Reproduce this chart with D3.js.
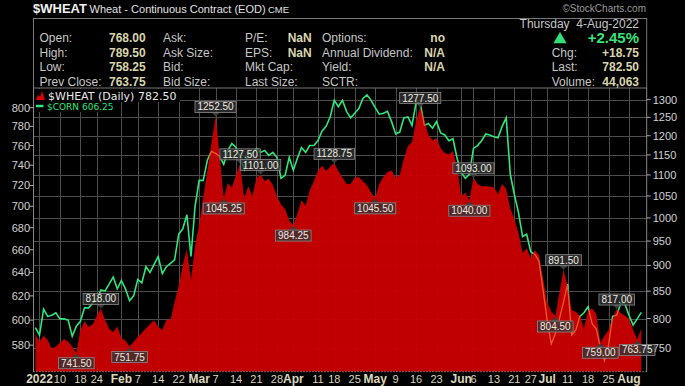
<!DOCTYPE html>
<html>
<head>
<meta charset="utf-8">
<script src="https://cdn.jsdelivr.net/npm/d3@7"></script>
<style>
  html, body { margin: 0; padding: 0; background: #000; }
  svg { display: block; font-family: "Liberation Sans", Arial, sans-serif; }
</style>
</head>
<body>
<div id="container"></div>
<script>
// trading calendar: weekdays from Dec 31 2021 to Aug 4 2022, minus exchange holidays
const holidays = ["2022-01-17", "2022-02-21", "2022-04-15", "2022-05-30", "2022-06-20", "2022-07-04"];

// $WHEAT daily close (right axis), one per trading day
const wheat = [
  772, 760, 770, 763, 748, 752, 758, 764.5, 760, 752,
  741.5, 780, 795, 785, 790, 805, 818, 798, 782, 776,
  786, 766, 762, 751.75, 760, 768, 775, 783, 790, 797,
  785, 780, 798, 798, 830, 860, 900, 934, 871, 940,
  985, 1045, 1110, 1180, 1252.5, 1150, 1045.25, 1080, 1070, 1100,
  1127.5, 1045, 1073, 1050, 1092, 1101, 1085, 1091, 1076, 1050,
  1030, 1020, 994, 984.25, 1010, 1040, 1027, 1063, 1084, 1110,
  1123, 1110, 1120, 1128.75, 1110, 1094, 1078, 1078, 1094, 1095,
  1085, 1075, 1058, 1045.5, 1078, 1095, 1107, 1111, 1094, 1100,
  1140, 1173, 1183, 1240, 1277.5, 1242, 1201, 1188, 1193, 1167,
  1155, 1151, 1160, 1120, 1050, 1058, 1040, 1093, 1078, 1073,
  1073, 1072, 1070, 1054, 1078, 1066, 1021, 997, 967, 925,
  935, 915, 931, 921, 875, 830, 812, 804.5, 846, 891.5,
  860, 815, 812, 805, 783, 815, 818, 808, 759, 770,
  780, 800, 817, 810, 805, 800, 780, 763.75, 782.5
];

// $CORN daily close (left axis)
const corn = [
  594, 588, 609, 603, 604, 606, 601, 601, 600, 587,
  595, 599, 610, 610, 614, 617, 625, 624, 630, 636,
  626, 633, 626, 616, 620, 634, 631, 645, 640, 647,
  654, 639, 645, 648, 651, 674, 679, 692, 654, 700,
  725, 725, 745, 754, 752, 749, 741, 755, 762, 758,
  748, 736, 753, 752, 757, 753, 755, 750, 753, 748,
  727, 730, 748, 735, 747, 758, 753, 760, 760, 765,
  775, 780, 790, 808, 801, 808, 796, 789, 794, 799,
  810, 814, 808, 800, 793, 794, 796, 785, 772, 774,
  789, 790, 781, 806, 805, 781, 783, 778, 785, 773,
  771, 765, 767, 747, 733, 727, 731, 757, 760, 765,
  772, 771, 769, 768, 780, 789, 731, 711, 694, 672,
  674, 658, 656, 650, 625, 600, 581, 589, 601, 615,
  630, 588, 592, 603, 606, 611, 597, 593, 578, 568,
  580, 603, 604, 614, 613, 604, 596, 601, 606.25
];

const leftTicks = [580, 600, 620, 640, 660, 680, 700, 720, 740, 760, 780, 800];
const rightTicks = [750, 800, 850, 900, 950, 1000, 1050, 1100, 1150, 1200, 1250, 1300];

const tickDates = [
  "2022-01-03", "2022-01-10", "2022-01-18", "2022-01-24", "2022-02-01", "2022-02-07",
  "2022-02-14", "2022-02-22", "2022-03-01", "2022-03-07", "2022-03-14", "2022-03-21",
  "2022-03-28", "2022-04-01", "2022-04-11", "2022-04-18", "2022-04-25", "2022-05-02",
  "2022-05-09", "2022-05-16", "2022-05-23", "2022-06-01", "2022-06-06", "2022-06-13",
  "2022-06-21", "2022-06-27", "2022-07-01", "2022-07-11", "2022-07-18", "2022-07-25",
  "2022-08-01"
];
const tickLabels = [
  "2022", "10", "18", "24", "Feb", "7", "14", "22", "Mar", "7", "14", "21",
  "28", "Apr", "11", "18", "25", "May", "9", "16", "23", "Jun", "6", "13",
  "21", "27", "Jul", "11", "18", "25", "Aug"
];

// price annotations on the wheat area
const annDates = [
  "2022-01-14", "2022-01-25", "2022-02-03", "2022-03-07", "2022-03-09", "2022-03-15",
  "2022-03-22", "2022-04-01", "2022-04-18", "2022-05-02", "2022-05-17", "2022-06-03",
  "2022-06-06", "2022-07-06", "2022-07-08", "2022-07-21", "2022-07-27", "2022-08-03"
];
const annValues = [
  741.5, 818, 751.75, 1252.5, 1045.25, 1127.5, 1101, 984.25, 1128.75, 1045.5,
  1277.5, 1040, 1093, 804.5, 891.5, 759, 817, 763.75
];
const annSide = [
  "low", "high", "low", "high", "low", "high", "high", "low", "high", "low",
  "high", "low", "high", "low", "high", "low", "high", "low"
];

const fmtDay = d3.utcFormat("%Y-%m-%d");
const dates = d3.utcDay.range(new Date(Date.UTC(2021, 11, 31)), new Date(Date.UTC(2022, 7, 5)))
  .filter(d => d.getUTCDay() !== 0 && d.getUTCDay() !== 6)
  .map(fmtDay)
  .filter(s => !holidays.includes(s));

const data = dates.map((d, i) => ({date: d, w: wheat[i], c: corn[i]}));

const W = 685, H = 386;
const plot = {left: 33.5, right: 646.7, top: 88, bottom: 371.7};

const svg = d3.select("#container").append("svg")
  .attr("width", W)
  .attr("height", H);

svg.append("rect").attr("width", W).attr("height", H).attr("fill", "#000");

const x = d3.scalePoint().domain(dates).range([35.4, 641.3]);
const yL = d3.scaleLog().domain([559.5, 821.6]).range([plot.bottom, plot.top]);
const yR = d3.scaleLog().domain([711, 1334]).range([plot.bottom, plot.top]);

const defs = svg.append("defs");
defs.append("clipPath").attr("id", "plotClip")
  .append("rect")
  .attr("x", plot.left).attr("y", plot.top)
  .attr("width", plot.right - plot.left).attr("height", plot.bottom - plot.top);

const area = d3.area()
  .x(d => x(d.date))
  .y0(plot.bottom)
  .y1(d => yR(d.w));

defs.append("clipPath").attr("id", "areaClip")
  .append("path").attr("d", area(data));

// grid
const grid = svg.append("g").attr("stroke", "#4d4d4d").attr("stroke-width", 1);
grid.selectAll(".hg").data(rightTicks).enter().append("line")
  .attr("x1", plot.left).attr("x2", plot.right)
  .attr("y1", d => Math.round(yR(d)) + 0.5).attr("y2", d => Math.round(yR(d)) + 0.5);
grid.selectAll(".vg").data(tickDates).enter().append("line")
  .attr("x1", d => Math.round(x(d)) + 0.5).attr("x2", d => Math.round(x(d)) + 0.5)
  .attr("y1", plot.top).attr("y2", plot.bottom);

const g = svg.append("g").attr("clip-path", "url(#plotClip)");

const cornLine = d3.line()
  .x(d => x(d.date))
  .y(d => yL(d.c));

g.append("path")
  .attr("d", cornLine(data))
  .attr("fill", "none")
  .attr("stroke", "#2fe57c")
  .attr("stroke-width", 1.6);

g.append("path")
  .attr("d", area(data))
  .attr("fill", "#c80000")
  .attr("fill-opacity", 0.96);

// corn line seen through the wheat area
g.append("g").attr("clip-path", "url(#areaClip)")
  .append("path")
  .attr("d", cornLine(data))
  .attr("fill", "none")
  .attr("stroke", "#ff7a3a")
  .attr("stroke-opacity", 0.7)
  .attr("stroke-width", 1.3);

// axes frame
svg.append("line")
  .attr("x1", plot.left).attr("x2", plot.left)
  .attr("y1", plot.top).attr("y2", plot.bottom)
  .attr("stroke", "#888");
svg.append("line")
  .attr("x1", plot.right).attr("x2", plot.right)
  .attr("y1", plot.top).attr("y2", plot.bottom)
  .attr("stroke", "#888");
svg.append("line")
  .attr("x1", plot.left).attr("x2", plot.right)
  .attr("y1", plot.bottom).attr("y2", plot.bottom)
  .attr("stroke", "#bbb")
  .attr("stroke-dasharray", "1,2");

// left axis (corn)
const la = svg.append("g");
la.selectAll("line").data(leftTicks).enter().append("line")
  .attr("x1", plot.left - 4).attr("x2", plot.left)
  .attr("y1", d => yL(d)).attr("y2", d => yL(d))
  .attr("stroke", "#aaa");
la.selectAll("text").data(leftTicks).enter().append("text")
  .attr("x", plot.left - 3.5)
  .attr("y", d => yL(d) + 4)
  .attr("text-anchor", "end")
  .attr("font-size", "11px")
  .attr("fill", "#d2d2d2")
  .text(d => d);

// right axis (wheat)
const ra = svg.append("g");
ra.selectAll("line").data(rightTicks).enter().append("line")
  .attr("x1", plot.right).attr("x2", plot.right + 4)
  .attr("y1", d => yR(d)).attr("y2", d => yR(d))
  .attr("stroke", "#aaa");
ra.selectAll("text").data(rightTicks).enter().append("text")
  .attr("x", plot.right + 6)
  .attr("y", d => yR(d) + 4)
  .attr("font-size", "11px")
  .attr("fill", "#d2d2d2")
  .text(d => d);

// x axis labels
svg.append("g").selectAll("text").data(tickDates).enter().append("text")
  .attr("x", d => x(d))
  .attr("y", 383)
  .attr("text-anchor", "middle")
  .attr("font-size", (d, i) => isNaN(+tickLabels[i]) || tickLabels[i] === "2022" ? "12px" : "11px")
  .attr("font-weight", (d, i) => isNaN(+tickLabels[i]) || tickLabels[i] === "2022" ? "bold" : "normal")
  .attr("fill", "#dcd6bc")
  .text((d, i) => tickLabels[i]);

// legend
const leg = svg.append("g");
leg.append("rect").attr("x", 34).attr("y", 89).attr("width", 146).attr("height", 13).attr("fill", "#000");
leg.append("rect").attr("x", 34).attr("y", 102).attr("width", 80).attr("height", 10).attr("fill", "#000");
leg.append("path")
  .attr("d", "M36,100 L38,95 L40,97 L42,91 L45,100 Z")
  .attr("fill", "#e00000");
leg.append("text")
  .attr("x", 48).attr("y", 100)
  .attr("font-family", "DejaVu Sans")
  .attr("font-size", "11px")
  .attr("fill", "#e6e6e6")
  .text("$WHEAT (Daily) 782.50");
leg.append("line")
  .attr("x1", 36).attr("x2", 43.5).attr("y1", 106).attr("y2", 106)
  .attr("stroke", "#2fe57c").attr("stroke-width", 2.5);
leg.append("text")
  .attr("x", 47).attr("y", 110)
  .attr("font-family", "DejaVu Sans")
  .attr("font-size", "9px")
  .attr("fill", "#2fe57c")
  .text("$CORN 606.25");

// annotations
const ann = svg.append("g");
annDates.forEach((d, i) => {
  const px = x(d);
  const row = data[dates.indexOf(d)];
  const py = yR(row.w);
  const grp = ann.append("g");
  const t = grp.append("text")
    .attr("font-size", "10px")
    .attr("fill", "#ecebe2")
    .attr("text-anchor", "middle")
    .text(annValues[i].toFixed(2));
  const tw = t.node().getComputedTextLength();
  const bw = tw + 5, bh = 11;
  let by;
  if (annSide[i] === "high") {
    by = py - 4 - bh;
    grp.insert("path", "text")
      .attr("d", `M${px - 4},${py - 4} L${px + 4},${py - 4} L${px},${py} Z`)
      .attr("fill", "#3c3c3c");
  } else {
    by = py + 5;
    grp.insert("path", "text")
      .attr("d", `M${px - 4},${py + 5} L${px + 4},${py + 5} L${px},${py + 1} Z`)
      .attr("fill", "#3c3c3c");
  }
  grp.insert("rect", "text")
    .attr("x", px - bw / 2).attr("y", by)
    .attr("width", bw).attr("height", bh)
    .attr("fill", "#333")
    .attr("fill-opacity", 0.78)
    .attr("stroke", "#8a8a8a")
    .attr("stroke-width", 0.8);
  t.attr("x", px).attr("y", by + 9);
});

// header
svg.append("text")
  .attr("x", 33).attr("y", 13)
  .attr("font-size", "13px").attr("font-weight", "bold").attr("fill", "#f0f0f0")
  .text("$WHEAT");
svg.append("text")
  .attr("x", 89.5).attr("y", 13)
  .attr("font-size", "11px").attr("fill", "#e0e0e0")
  .text("Wheat - Continuous Contract (EOD)");
svg.append("text")
  .attr("x", 268).attr("y", 13)
  .attr("font-size", "9.5px").attr("fill", "#e0e0e0")
  .text("CME");
svg.append("text")
  .attr("x", 646).attr("y", 11.5)
  .attr("text-anchor", "end")
  .attr("font-size", "10px").attr("fill", "#9a9a9a")
  .text("\u00A9StockCharts.com");

svg.append("rect")
  .attr("x", 33.5).attr("y", 18.5)
  .attr("width", plot.right - 33.5).attr("height", plot.top - 18.5)
  .attr("fill", "none").attr("stroke", "#777");

const rowsY = [41.7, 56.5, 71.2, 86];
const labelColor = "#c6c6c6", valueColor = "#dad5ad";
const cols = [
  {x: 39.5, labels: ["Open:", "High:", "Low:", "Prev Close:"], vx: 145.7, values: ["768.00", "789.50", "758.25", "763.75"]},
  {x: 163, labels: ["Ask:", "Ask Size:", "Bid:", "Bid Size:"], vx: null, values: []},
  {x: 245, labels: ["P/E:", "EPS:", "Mkt Cap:", "Last Size:"], vx: 311.7, values: ["NaN", "NaN", "", ""]},
  {x: 322, labels: ["Options:", "Annual Dividend:", "Yield:", "SCTR:"], vx: 445, values: ["no", "N/A", "N/A", ""]},
  {x: 551.7, labels: ["", "Chg:", "Last:", "Volume:"], vx: 639, values: ["", "+18.75", "782.50", "44,063"]}
];
cols.forEach(c => {
  c.labels.forEach((l, i) => {
    if (!l) return;
    svg.append("text")
      .attr("x", c.x).attr("y", rowsY[i])
      .attr("font-size", "12px").attr("fill", labelColor)
      .text(l);
  });
  c.values.forEach((v, i) => {
    if (!v) return;
    svg.append("text")
      .attr("x", c.vx).attr("y", rowsY[i])
      .attr("text-anchor", "end")
      .attr("font-size", "12px").attr("font-weight", "bold").attr("fill", valueColor)
      .text(v);
  });
});

svg.append("text")
  .attr("x", 639).attr("y", 28)
  .attr("text-anchor", "end")
  .attr("font-size", "12px").attr("fill", labelColor)
  .attr("xml:space", "preserve")
  .text("Thursday  4-Aug-2022");
svg.append("path")
  .attr("d", "M553.5,43.3 L566.5,43.3 L560,31.7 Z")
  .attr("fill", "#33dd77");
svg.append("text")
  .attr("x", 639).attr("y", 43.3)
  .attr("text-anchor", "end")
  .attr("font-size", "15px").attr("font-weight", "bold").attr("fill", "#3ae07a")
  .text("+2.45%");
</script>
</body>
</html>
